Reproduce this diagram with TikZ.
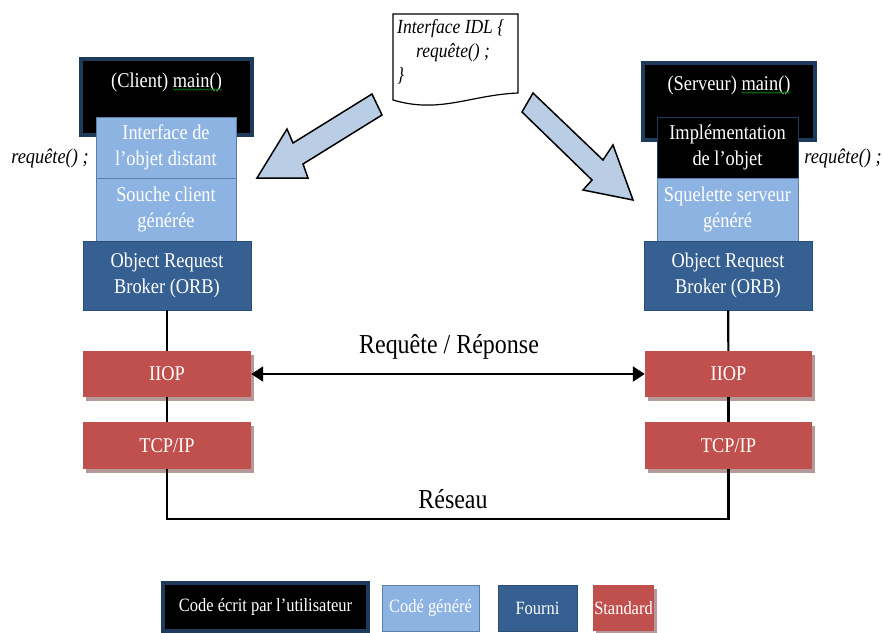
\documentclass[tikz,border=0pt]{standalone}
\usepackage{fontspec}
\setmainfont[FakeStretch=0.875]{Liberation Serif}
\usetikzlibrary{arrows.meta,shadows,decorations.pathmorphing}

\begin{document}
\begin{tikzpicture}[x=1pt, y=-1pt,
  box/.style={rectangle, inner sep=0pt, text=white, align=center,
    font=\fontsize{21}{26}\selectfont},
  usercode/.style={box, fill=black, draw=CodeBorder, line width=3.5pt},
  gencode/.style={box, fill=GenBlue, draw=GenBorder, line width=0.8pt},
  orbbox/.style={box, fill=OrbBlue, draw=OrbBorder, line width=0.8pt},
  stdbox/.style={box, fill=StdRed,
    drop shadow={shadow xshift=3pt, shadow yshift=-4pt, fill=StdShadow, opacity=1}},
  legend/.style={font=\fontsize{18.8}{22}\selectfont},
  boxtext/.style={inner sep=0pt, text=white, font=\fontsize{21}{26}\selectfont},
  calltext/.style={inner sep=0pt, font=\fontsize{21}{24}\selectfont\itshape},
  bigtext/.style={inner sep=0pt, font=\fontsize{27.4}{30}\selectfont},
  wire/.style={line width=2.2pt},
  flow/.style={fill=ArrowBlue, draw=black, line width=1.5pt, line join=miter},
  spellwave/.style={draw=green!55!black, line width=0.6pt, decorate,
    decoration={snake, amplitude=0.7pt, segment length=3pt}}]
\definecolor{CodeBorder}{HTML}{1F3B5C};
\definecolor{GenBlue}{HTML}{8DB3E2};
\definecolor{GenBorder}{HTML}{5C7DA6};
\definecolor{OrbBlue}{HTML}{376092};
\definecolor{OrbBorder}{HTML}{2C4D75};
\definecolor{StdRed}{HTML}{C0504D};
\definecolor{StdShadow}{HTML}{B59898};
\definecolor{ArrowBlue}{HTML}{B9CDE5};

\useasboundingbox (0,0) rectangle (882,632);

% IDL document
\draw[line width=1.2pt, fill=white] (393,14) -- (518,14) -- (518,93)
  .. controls (470,95) and (440,114) .. (393,100) -- cycle;
\node[calltext, font=\fontsize{20}{24}\selectfont\itshape, anchor=north west, align=left]
  (idl) at (397,19) {Interface IDL \{\\\hspace*{19pt}requête() ;\\\}};

% generation arrows
\draw[flow] (257,178) -- (287,129) -- (293,143) -- (372,94) -- (382,115)
  -- (303,164) -- (308,178) -- cycle;
\draw[flow] (533,93) -- (603,160) -- (613,145) -- (633,200) -- (583,190)
  -- (592,180) -- (522,112) -- cycle;

% client stack
\node[usercode, minimum width=171pt, minimum height=76pt] (clientmain) at (166.5,97) {};
\node[boxtext] (clienttitle) at (166.5,82) {(Client) main()};
\draw[spellwave] ([xshift=-49pt,yshift=-2.5pt]clienttitle.base east)
  -- ([yshift=-2.5pt]clienttitle.base east);
\node[gencode, minimum width=140pt, minimum height=61pt] (iface) at (166,147.5)
  {Interface de\\l’objet distant};
\node[gencode, minimum width=140pt, minimum height=63pt] (stub) at (166,209.5)
  {Souche client\\générée};
\node[orbbox, minimum width=168pt, minimum height=69pt] (orbL) at (167,275.5)
  {Object Request\\Broker (ORB)};
\node[stdbox, minimum width=168pt, minimum height=46pt] (iiopL) at (167,374) {IIOP};
\node[stdbox, minimum width=168pt, minimum height=47pt] (tcpL) at (167,445.5) {TCP/IP};
\node[calltext] (callL) at (50,158) {requête() ;};

% server stack
\node[usercode, minimum width=172pt, minimum height=77pt] (servermain) at (729,101.5) {};
\node[boxtext] (servertitle) at (729,85) {(Serveur) main()};
\draw[spellwave] ([xshift=-49pt,yshift=-2.5pt]servertitle.base east)
  -- ([yshift=-2.5pt]servertitle.base east);
\node[usercode, line width=1pt, minimum width=141pt, minimum height=61pt] (impl) at (727.5,147.5)
  {Implémentation\\de l’objet};
\node[gencode, minimum width=141pt, minimum height=63pt] (skel) at (727.5,209.5)
  {Squelette serveur\\généré};
\node[orbbox, minimum width=168pt, minimum height=69pt] (orbR) at (728,275.5)
  {Object Request\\Broker (ORB)};
\node[stdbox, minimum width=167pt, minimum height=46pt] (iiopR) at (728.5,374) {IIOP};
\node[stdbox, minimum width=167pt, minimum height=47pt] (tcpR) at (728.5,445.5) {TCP/IP};
\node[calltext] (callR) at (843,158) {requête() ;};

% links
\draw[wire] (orbL) -- (iiopL);
\draw[wire] (iiopL) -- (tcpL);
\draw[wire] (orbR) -- (iiopR);
\draw[wire] (iiopR) -- (tcpR);
\coordinate (net) at (450,519);
\draw[wire] (tcpL.south) |- (net) -| (tcpR.south);
\draw[wire, {Triangle[length=12pt,width=15pt]}-{Triangle[length=12pt,width=15pt]}]
  (iiopL.east) -- (iiopR.west);
\node[bigtext] (reqlbl) at (449,347) {Requête / Réponse};
\node[bigtext] (netlbl) at (453,499) {Réseau};

% legend
\node[usercode, legend, minimum width=205pt, minimum height=48pt] (keyuser) at (265.5,607)
  {Code écrit par l’utilisateur};
\node[gencode, legend, minimum width=97pt, minimum height=46pt] (keygen) at (430.5,608)
  {Codé généré};
\node[orbbox, legend, minimum width=79pt, minimum height=46pt] (keyorb) at (537.5,608)
  {Fourni};
\node[stdbox, legend, minimum width=61pt, minimum height=46pt] (keystd) at (623.5,608)
  {Standard};
\end{tikzpicture}
\end{document}
